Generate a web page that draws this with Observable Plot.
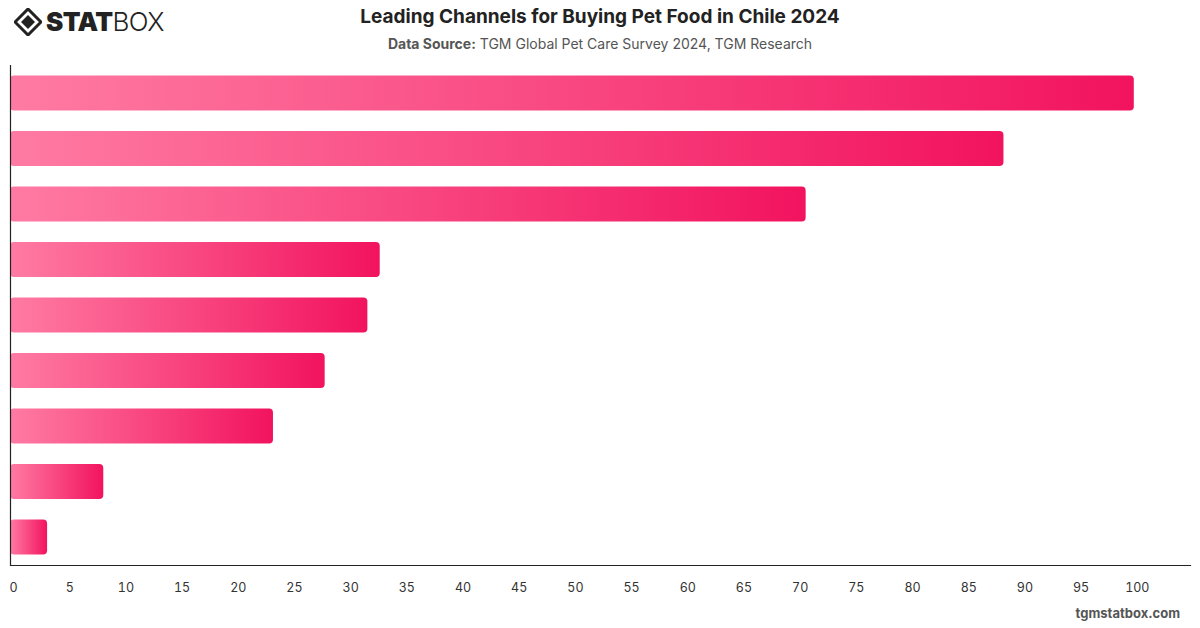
<!DOCTYPE html>
<html>
<head>
<meta charset="utf-8">
<script src="https://cdn.jsdelivr.net/npm/d3@7"></script>
<script src="https://cdn.jsdelivr.net/npm/@observablehq/plot@0.6"></script>
<style>
  html, body { margin: 0; padding: 0; background: #fff; }
  body { width: 1200px; height: 628px; position: relative; overflow: hidden; font-family: Inter, "Noto Sans", sans-serif; }
  #logo { position: absolute; left: 14px; top: 8px; display: flex; align-items: center; }
  #logo .word { font-size: 26px; color: #222; letter-spacing: -0.6px; margin-left: 4px; line-height: 1; }
  #logo .word b { font-weight: 900; }
  #logo .word span { font-weight: 300; }
  #title { position: absolute; left: 0; width: 1200px; top: 5px; text-align: center; font-size: 19px; font-weight: 700; color: #222; }
  #subtitle { position: absolute; left: 0; width: 1200px; top: 35px; text-align: center; font-size: 14px; color: #555; }
  #subtitle b { font-weight: 700; }
  #chart { position: absolute; left: 0; top: 62px; }
  #footer { position: absolute; right: 20px; top: 605px; font-size: 13px; font-weight: 700; color: #555; }
</style>
</head>
<body>
<div id="logo">
  <svg width="28" height="28" viewBox="0 0 28 28">
    <path d="M14 1 L27 14 L14 27 L1 14 Z" fill="none" stroke="#222" stroke-width="3"/>
    <path d="M14 7 L21 14 L14 21 L7 14 Z" fill="#222"/>
  </svg>
  <div class="word"><b>STAT</b><span>BOX</span></div>
</div>
<div id="title">Leading Channels for Buying Pet Food in Chile 2024</div>
<div id="subtitle"><b>Data Source:</b> TGM Global Pet Care Survey 2024, TGM Research</div>
<div id="chart"></div>
<div id="footer">tgmstatbox.com</div>
<script>
// Purchase channels and share of respondents (%)
const channels = [
  "Supermarkets",
  "Pet stores",
  "Veterinary clinics",
  "Online pet stores",
  "Hypermarkets",
  "Local shops",
  "Online marketplaces",
  "Farm / feed stores",
  "Other"
];
const shares = [100, 88.4, 70.8, 32.9, 31.8, 28.0, 23.4, 8.3, 3.3];
const xTicks = d3.range(0, 101, 5);

const data = channels.map((channel, i) => ({channel, share: shares[i]}));

const chart = Plot.plot({
  width: 1200,
  height: 566,
  marginLeft: 10,
  marginRight: 10,
  marginTop: 3,
  marginBottom: 63,
  style: {fontFamily: "Inter, 'Noto Sans', sans-serif", fontSize: "12.5px", color: "#333"},
  x: {domain: [0, 105], ticks: xTicks},
  y: {domain: channels, paddingInner: 0.37, paddingOuter: 0.19, round: false, axis: null},
  marks: [
    () => {
      const svg = d3.create("svg:defs");
      const g = svg.append("linearGradient").attr("id", "barGrad").attr("x1", 0).attr("x2", 1).attr("y1", 0).attr("y2", 0);
      g.append("stop").attr("offset", "0%").attr("stop-color", "#ff7ba3");
      g.append("stop").attr("offset", "100%").attr("stop-color", "#f2135f");
      return svg.node();
    },
    Plot.barX(data, {x: "share", y: "channel", fill: "url(#barGrad)", rx: 4}),
    Plot.ruleX([0], {stroke: "#222", strokeWidth: 1.2}),
    Plot.frame({anchor: "bottom", stroke: "#222", strokeWidth: 1.2}),
    Plot.axisX({ticks: xTicks, tickSize: 0, tickPadding: 18, label: null, textAnchor: "middle", dx: 3})
  ]
});
document.getElementById("chart").appendChild(chart);
</script>
</body>
</html>
